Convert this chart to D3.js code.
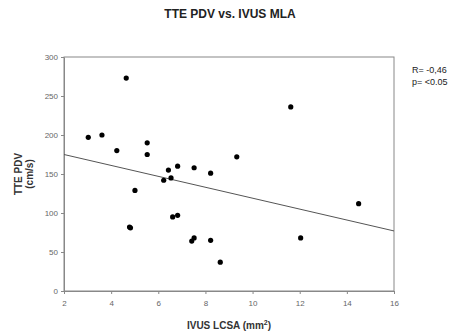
<!DOCTYPE html>
<html>
<head>
<meta charset="utf-8">
<script src="https://cdn.jsdelivr.net/npm/d3@7"></script>
<style>
  body { margin: 0; background: #fff; }
  text { font-family: "Liberation Sans", Arial, sans-serif; }
</style>
</head>
<body>
<div id="chart"></div>
<script>
// IVUS LCSA (mm2) vs TTE PDV (cm/s)
const lcsa = [3.03, 3.61, 4.24, 4.64, 5.53, 5.53, 5.01, 4.78, 4.82, 6.23, 6.43, 6.54, 6.82,
              6.61, 6.82, 7.52, 7.42, 7.52, 8.22, 8.22, 8.63, 9.33, 11.62, 12.04, 14.5];
const pdv  = [197, 200, 180, 273, 190, 175, 129, 82, 81, 142, 155, 145, 160,
              95, 97, 158, 64, 68, 151, 65, 37, 172, 236, 68, 112];

// fitted line
const fitX = [2, 16];
const fitY = [175, 77];

const xTicks = [2, 4, 6, 8, 10, 12, 14, 16];
const yTicks = [0, 50, 100, 150, 200, 250, 300];
const statLines = ["R= -0,46", "p= <0.05"];

const width = 456, height = 333;
const margin = {top: 57, right: 62, bottom: 42, left: 64};

const svg = d3.select("#chart").append("svg")
  .attr("width", width)
  .attr("height", height)

const x = d3.scaleLinear().domain([2, 16]).range([margin.left, width - margin.right]);
const y = d3.scaleLinear().domain([0, 300]).range([height - margin.bottom, margin.top]);

// plot frame
svg.append("rect")
  .attr("x", x(2)).attr("y", y(300))
  .attr("width", x(16) - x(2)).attr("height", y(0) - y(300))
  .attr("fill", "none").attr("stroke", "#888").attr("stroke-width", 1)

const xAxis = svg.append("g")
  .attr("transform", `translate(0,${y(0)})`)
  .call(d3.axisBottom(x).tickValues(xTicks).tickSize(3).tickSizeOuter(0))
const yAxis = svg.append("g")
  .attr("transform", `translate(${x(2)},0)`)
  .call(d3.axisLeft(y).tickValues(yTicks).tickSize(3).tickSizeOuter(0))

;[xAxis, yAxis].forEach(g => {
  g.select(".domain").attr("stroke", "#888")
  g.selectAll(".tick line").attr("stroke", "#888")
  g.selectAll(".tick text").attr("fill", "#666").style("font-size", "8px")
})
xAxis.selectAll(".tick text").attr("dy", "1.1em")

// regression line
svg.append("line")
  .attr("x1", x(fitX[0])).attr("y1", y(fitY[0]))
  .attr("x2", x(fitX[1])).attr("y2", y(fitY[1]))
  .attr("stroke", "#555").attr("stroke-width", 1)

svg.selectAll(".pt")
  .data(lcsa.map((d, i) => ({x: d, y: pdv[i]})))
  .join("circle")
  .classed("pt", true)
    .attr("cx", d => x(d.x))
    .attr("cy", d => y(d.y))
    .attr("r", 2.6)
    .attr("fill", "#000")

// title
svg.append("text")
  .attr("x", 230).attr("y", 18)
  .attr("text-anchor", "middle")
  .style("font-size", "12px").style("font-weight", "bold")
  .attr("fill", "#222")
  .text("TTE PDV vs. IVUS MLA")

// axis titles
const xt = svg.append("text")
  .attr("x", (x(2) + x(16)) / 2).attr("y", 329)
  .attr("text-anchor", "middle")
  .style("font-size", "10px").style("font-weight", "bold")
  .attr("fill", "#333")
xt.append("tspan").text("IVUS LCSA (mm")
xt.append("tspan").attr("dy", -4).style("font-size", "7px").text("2")
xt.append("tspan").attr("dy", 4).text(")")

const yt = svg.append("text")
  .attr("transform", `translate(22,${(y(0) + y(300)) / 2}) rotate(-90)`)
  .attr("text-anchor", "middle")
  .style("font-size", "10px").style("font-weight", "bold")
  .attr("fill", "#333")
yt.append("tspan").attr("x", 0).attr("dy", 0).text("TTE PDV")
yt.append("tspan").attr("x", 0).attr("dy", "1.1em").text("(cm/s)")

svg.selectAll(".stat")
  .data(statLines)
  .join("text")
  .classed("stat", true)
    .attr("x", 412)
    .attr("y", (d, i) => 73 + i * 12)
    .style("font-size", "9px")
    .attr("fill", "#222")
    .text(d => d)
</script>
</body>
</html>
